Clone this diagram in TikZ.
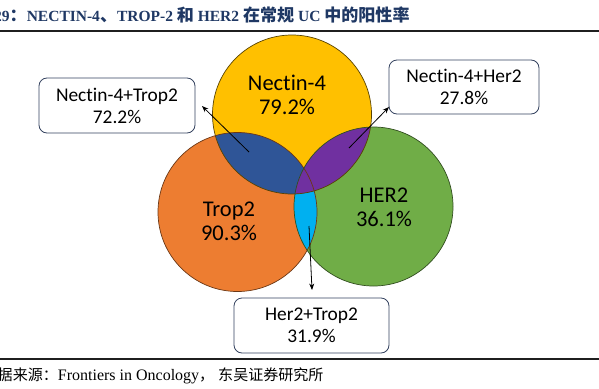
\documentclass[tikz,border=0pt]{standalone}
\usepackage{fontspec}
\setmainfont{Liberation Serif}
\newfontfamily\lab[Ligatures=NoCommon]{Carlito}
\newfontfamily\cjk[Scale=0.94]{Noto Sans CJK SC}
\newfontfamily\cjkt[Scale=1.1]{Noto Sans CJK SC}
\usetikzlibrary{arrows.meta}
\definecolor{cyel}{HTML}{FFC000}
\definecolor{corg}{HTML}{ED7D31}
\definecolor{cgrn}{HTML}{70AD47}
\definecolor{cblu}{HTML}{2F5597}
\definecolor{cpur}{HTML}{7030A0}
\definecolor{ccya}{HTML}{00B0F0}
\definecolor{ctitle}{HTML}{1F3864}
\definecolor{cbox}{HTML}{34425F}
\tikzset{
  venn/.style={circle, minimum size=159pt, inner sep=0pt, outer sep=0pt},
  circtext/.style={font=\lab\fontsize{22.5}{24}\selectfont, align=center, inner sep=0pt, text=black},
  labbox/.style={draw=cbox, line width=0.8pt, rounded corners=8pt, fill=white,
    font=\lab\fontsize{19.4}{22}\selectfont, align=center, inner sep=0pt},
  arr/.style={line width=0.8pt, -{Stealth[length=6.5pt,width=5pt]}},
  rulel/.style={line width=2pt, draw=black!88},
}
\begin{document}
\begin{tikzpicture}[x=1pt,y=-1pt]
\useasboundingbox (0,0) rectangle (599,388);
% title
\node[anchor=base west, inner sep=0pt, text=ctitle, font=\bfseries\fontsize{15.5}{18}\selectfont] (title) at (-23,21)
  {{\cjkt\bfseries 图}29{\cjkt\bfseries ：}NECTIN-4{\cjkt\bfseries 、}TROP-2 {\cjkt\bfseries 和} HER2 {\cjkt\bfseries 在常规} UC {\cjkt\bfseries 中的阳性率}};
\draw[rulel] (0,31) -- (599,31);
% circles
\node[venn, fill=cyel] (nec) at (292,114.5) {};
\node[venn, fill=corg] (trop) at (237.5,212) {};
\node[venn, fill=cgrn] (her) at (373.5,206.5) {};
\begin{scope}
  \clip (trop.center) circle[radius=79.5pt];
  \fill[ccya] (her.center) circle[radius=79.5pt];
\end{scope}
\begin{scope}
  \clip (nec.center) circle[radius=79.5pt];
  \fill[cblu] (trop.center) circle[radius=79.5pt];
\end{scope}
\begin{scope}
  \clip (nec.center) circle[radius=79.5pt];
  \fill[cpur] (her.center) circle[radius=79.5pt];
\end{scope}
\draw[line width=0.7pt, draw=cyel!35!black] (nec.center) circle[radius=79.5pt];
\draw[line width=0.7pt, draw=corg!45!black] (trop.center) circle[radius=79.5pt];
\draw[line width=0.7pt, draw=cgrn!45!black] (her.center) circle[radius=79.5pt];
% circle texts
\node[circtext] (tnec) at (287,95) {Nectin-4\\79.2\%};
\node[circtext] (ttrop) at (229,221) {Trop2\\90.3\%};
\node[circtext] (ther) at (384,207) {HER2\\36.1\%};
% boxes
\node[labbox, minimum width=156pt, minimum height=55pt] (b1) at (117,105.5) {Nectin-4+Trop2\\72.2\%};
\node[labbox, minimum width=150pt, minimum height=54pt] (b2) at (464,87) {Nectin-4+Her2\\27.8\%};
\node[labbox, minimum width=155pt, minimum height=55pt] (b3) at (311.5,325.5) {Her2+Trop2\\31.9\%};
% arrows
\coordinate (a1s) at (249,152);
\coordinate (a1e) at (202,106);
\coordinate (a2s) at (349,148);
\coordinate (a2e) at (389,107);
\coordinate (a3s) at (309,226);
\coordinate (a3e) at (312,290);
\draw[arr] (a1s) -- (a1e);
\draw[arr] (a2s) -- (a2e);
\draw[arr] (a3s) -- (a3e);
% bottom rule and source
\draw[rulel] (0,358.5) -- (599,358.5);
\node[anchor=base west, inner sep=0pt, font=\fontsize{16}{18}\selectfont] (src) at (-17.5,380)
  {{\cjk 数据来源：}Frontiers in Oncology{\cjk ，}\kern4pt{\cjk 东吴证券研究所}};
\end{tikzpicture}
\end{document}
